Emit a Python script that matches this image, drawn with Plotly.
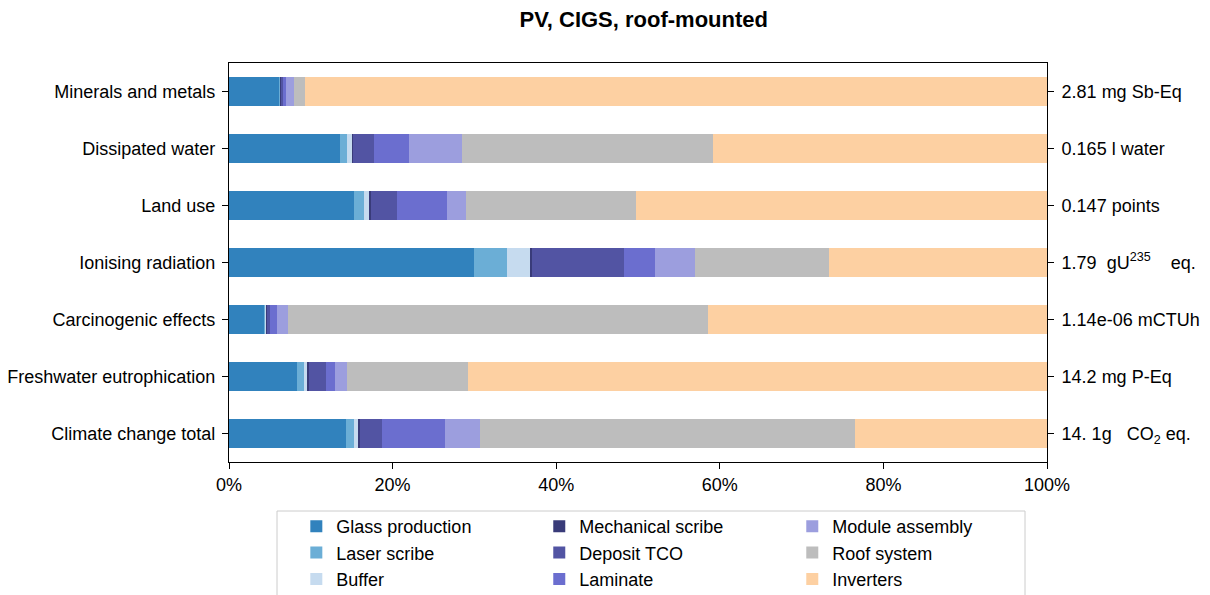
import plotly.graph_objects as go

# -------------------------------------------------------
# Data (shares in %, rows listed top to bottom)
# -------------------------------------------------------
categories = [
    "Minerals and metals",
    "Dissipated water",
    "Land use",
    "Ionising radiation",
    "Carcinogenic effects",
    "Freshwater eutrophication",
    "Climate change total",
]
totals = [
    "2.81 mg Sb-Eq",
    "0.165 l water",
    "0.147 points",
    "1.79  gU<sup>235</sup>    eq.",
    "1.14e-06 mCTUh",
    "14.2 mg P-Eq",
    "14. 1g   CO<sub>2</sub> eq.",
]

glass_production = [6.2, 13.6, 15.3, 30.0, 4.3, 8.3, 14.3]
laser_scribe = [0.05, 0.86, 1.2, 4.0, 0.15, 0.86, 0.98]
buffer = [0.05, 0.6, 0.73, 2.8, 0.1, 0.45, 0.6]
mechanical_scribe = [0.15, 0.15, 0.15, 0.3, 0.1, 0.12, 0.1]
deposit_tco = [0.1, 2.5, 3.2, 11.2, 0.4, 2.1, 2.7]
laminate = [0.37, 4.3, 6.1, 3.8, 0.85, 1.1, 7.7]
module_assembly = [1.0, 6.5, 2.3, 4.9, 1.35, 1.47, 4.3]
roof_system = [1.35, 30.7, 20.8, 16.3, 51.3, 14.8, 45.8]
inverters = [90.7, 40.8, 50.2, 26.7, 41.5, 70.8, 23.5]

x_ticks = [0, 20, 40, 60, 80, 100]
x_labels = ["0%", "20%", "40%", "60%", "80%", "100%"]

FONT = "Liberation Sans, Arial, sans-serif"

# page body adds an 8px margin, so the figure is drawn 8px smaller
W, H = 1202, 587
PL, PR, PT, PB = 221, 1039, 55, 454  # plot area in figure pixels


def main():
    n = len(categories)
    ypos = [n - 1 - i for i in range(n)]
    ph = PB - PT
    pw = PR - PL

    # (name, values, colour, legend column)
    series = [
        ("Glass production", glass_production, "#3182bd", "legend"),
        ("Laser scribe", laser_scribe, "#6baed6", "legend"),
        ("Buffer", buffer, "#c6dbef", "legend"),
        ("Mechanical scribe", mechanical_scribe, "#393b79", "legend2"),
        ("Deposit TCO", deposit_tco, "#5254a3", "legend2"),
        ("Laminate", laminate, "#6b6ecf", "legend2"),
        ("Module assembly", module_assembly, "#9c9ede", "legend3"),
        ("Roof system", roof_system, "#bdbdbd", "legend3"),
        ("Inverters", inverters, "#fdd0a2", "legend3"),
    ]

    fig = go.Figure()
    for name, vals, color, leg in series:
        fig.add_trace(
            go.Bar(
                x=vals,
                y=ypos,
                orientation="h",
                name=name,
                width=0.5,
                marker=dict(color=color, line=dict(width=0)),
                legend=leg,
            )
        )

    # invisible helper so the right-hand axis (impact totals) gets drawn
    fig.add_trace(
        go.Scatter(
            x=inverters,
            y=ypos,
            yaxis="y2",
            mode="none",
            showlegend=False,
            hoverinfo="skip",
        )
    )

    legend_common = dict(
        orientation="v",
        traceorder="normal",
        yanchor="top",
        y=-(508 - 462) / ph,
        xanchor="left",
        font=dict(family=FONT, size=18, color="#000"),
        bgcolor="rgba(0,0,0,0)",
        borderwidth=0,
        tracegroupgap=0,
    )

    axis_common = dict(
        ticks="outside",
        ticklen=6,
        tickwidth=1.3,
        tickcolor="#000",
        showgrid=False,
        zeroline=False,
        tickfont=dict(family=FONT, size=18, color="#000"),
    )

    fig.update_layout(
        width=W,
        height=H,
        barmode="stack",
        plot_bgcolor="white",
        paper_bgcolor="white",
        font=dict(family=FONT, size=18, color="#000"),
        margin=dict(l=PL, r=W - PR, t=PT, b=H - PB, autoexpand=False),
        title=dict(
            text="<b>PV, CIGS, roof-mounted</b>",
            x=0.507,
            xref="paper",
            xanchor="center",
            y=1 - 11.5 / H,
            yref="container",
            yanchor="middle",
            font=dict(family=FONT, size=22, color="#000"),
        ),
        xaxis=dict(
            axis_common,
            range=[0, 100],
            tickvals=x_ticks,
            ticktext=x_labels,
            showline=True,
            linecolor="#000",
            linewidth=1.3,
            mirror=True,
        ),
        yaxis=dict(
            axis_common,
            range=[-0.5, n - 0.5],
            tickvals=ypos,
            ticktext=categories,
            ticklabelstandoff=3,
            showline=True,
            linecolor="#000",
            linewidth=1.3,
            mirror=True,
        ),
        yaxis2=dict(
            axis_common,
            overlaying="y",
            side="right",
            anchor="x",
            range=[-0.5, n - 0.5],
            tickvals=ypos,
            ticktext=totals,
            ticklabelstandoff=4,
            showline=False,
        ),
        legend=dict(legend_common, x=0.0823),
        legend2=dict(legend_common, x=0.3793),
        legend3=dict(legend_common, x=0.6886),
        shapes=[
            dict(
                type="rect",
                xref="paper",
                yref="paper",
                x0=(277 - 229) / pw,
                x1=(1025 - 229) / pw,
                y0=-0.40,
                y1=-(511 - 462) / ph,
                line=dict(color="#cccccc", width=1),
                fillcolor="rgba(0,0,0,0)",
                layer="below",
            )
        ],
    )

    fig.write_html("out.html")


if __name__ == "__main__":
    main()
